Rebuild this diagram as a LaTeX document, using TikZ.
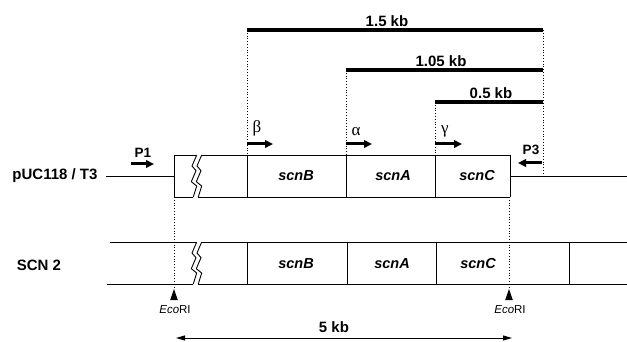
\documentclass[tikz,border=0pt]{standalone}
\usepackage{fontspec}
\setmainfont{Liberation Sans}
\newfontfamily\grk{Liberation Serif}
\usetikzlibrary{arrows.meta}
\begin{document}
\begin{tikzpicture}[x=1pt,y=-1pt,
  lbl/.style={font=\bfseries\fontsize{15}{15}\selectfont, inner sep=0pt},
  gene/.style={font=\bfseries\itshape\fontsize{14.5}{15}\selectfont, inner sep=0pt},
  small/.style={font=\fontsize{11.5}{12}\selectfont, inner sep=0pt},
  greek/.style={font=\grk\fontsize{17}{17}\selectfont, inner sep=0pt},
  thinline/.style={line width=0.9pt},
  bar/.style={line width=4pt},
  dots/.style={dotted, line width=0.8pt},
  primer/.style={line width=3pt, -{Triangle[length=8pt,width=7.5pt]}},
  scale5/.style={line width=0.9pt, {Triangle[length=9pt,width=5pt]}-{Triangle[length=9pt,width=5pt]}},
  zz/.pic={\draw[line width=0.9pt] (0,0)--(-4.7,11)--(-0.7,15.7)--(-5.4,26.7)--(0,31)--(-3.4,42);}
]
\useasboundingbox (0,0) rectangle (627,342);

% ---------- size bars ----------
\coordinate (b15l) at (247,30);  \coordinate (b15r) at (543,30);
\coordinate (b10l) at (346,70);  \coordinate (b10r) at (543,70);
\coordinate (b05l) at (435,102); \coordinate (b05r) at (543,102);
\draw[bar] (b15l) -- (b15r);
\draw[bar] (b10l) -- (b10r);
\draw[bar] (b05l) -- (b05r);
\node[lbl] (t15) at (387,21) {1.5 kb};
\node[lbl] (t10) at (441,61) {1.05 kb};
\node[lbl] (t05) at (491,93) {0.5 kb};

% ---------- upper construct ----------
\node[lbl] (puc) at (55,176) {pUC118 / T3};
\coordinate (uL) at (106,176);
\coordinate (uBL) at (174,176);
\coordinate (uBR) at (510,176);
\coordinate (uR) at (627,176);
\draw[thinline] (uL) -- (uBL);
\draw[thinline] (uBR) -- (uR);
\draw[thinline] (174,155) -- (196.7,155);
\draw[thinline] (201.7,155) -- (510,155);
\draw[thinline] (174,197) -- (193.3,197);
\draw[thinline] (198.3,197) -- (510,197);
\draw[thinline] (174,155) -- (174,197);
\draw[thinline] (510,155) -- (510,197);
\draw[thinline] (247,155) -- (247,197);
\draw[thinline] (346,155) -- (346,197);
\draw[thinline] (435,155) -- (435,197);
\pic at (196.7,155) {zz};
\pic at (201.7,155) {zz};
\node[gene] (ub) at (296,176) {scnB};
\node[gene] (ua) at (393,176) {scnA};
\node[gene] (uc) at (477,176) {scnC};

% primers
\node[lbl,font=\bfseries\fontsize{13.5}{13.5}\selectfont] (p1) at (143,153) {P1};
\draw[primer] (131,164) -- (154,164);
\node[lbl,font=\bfseries\fontsize{13.5}{13.5}\selectfont] (p3) at (531,150) {P3};
\draw[primer] (542,163) -- (518,163);
\node[greek] (beta) at (257,128) {β};
\draw[primer] (247,144) -- (273,144);
\node[greek] (alpha) at (356,132) {α};
\draw[primer] (346,144) -- (372,144);
\node[greek] (gamma) at (445,131) {γ};
\draw[primer] (435,144) -- (462,144);

% dotted guides
\draw[dots] (b15l) -- (247,155);
\draw[dots] (b10l) -- (346,155);
\draw[dots] (b05l) -- (435,155);
\draw[dots] (b15r) -- (543,176);

% ---------- lower construct ----------
\node[lbl] (scn) at (39,265) {SCN 2};
\draw[thinline] (110,242) -- (196.7,242);
\draw[thinline] (201.7,242) -- (627,242);
\draw[thinline] (107,284) -- (193.3,284);
\draw[thinline] (198.3,284) -- (627,284);
\pic at (196.7,242) {zz};
\pic at (201.7,242) {zz};
\foreach \x in {247,347,436,569} \draw[thinline] (\x,242) -- (\x,284);
\node[gene] (lb) at (296,264) {scnB};
\node[gene] (la) at (392,264) {scnA};
\node[gene] (lc) at (478,264) {scnC};

% EcoRI sites
\coordinate (e1) at (174,289);
\coordinate (e2) at (509,289);
\draw[dots] (174,197) -- (e1);
\draw[dots] (509,197) -- (e2);
\fill (e1) -- ++(-3.8,11) -- ++(7.6,0) -- cycle;
\fill (e2) -- ++(-3.8,11) -- ++(7.6,0) -- cycle;
\node[small] (eco1) at (175,310) {\itshape Eco\upshape RI};
\node[small] (eco2) at (510,310) {\itshape Eco\upshape RI};

% 5 kb scale
\coordinate (s1) at (176,338);
\coordinate (s2) at (512,338);
\draw[scale5] (s1) -- (s2);
\node[lbl] (t5) at (334,327) {5 kb};
\end{tikzpicture}
\end{document}
